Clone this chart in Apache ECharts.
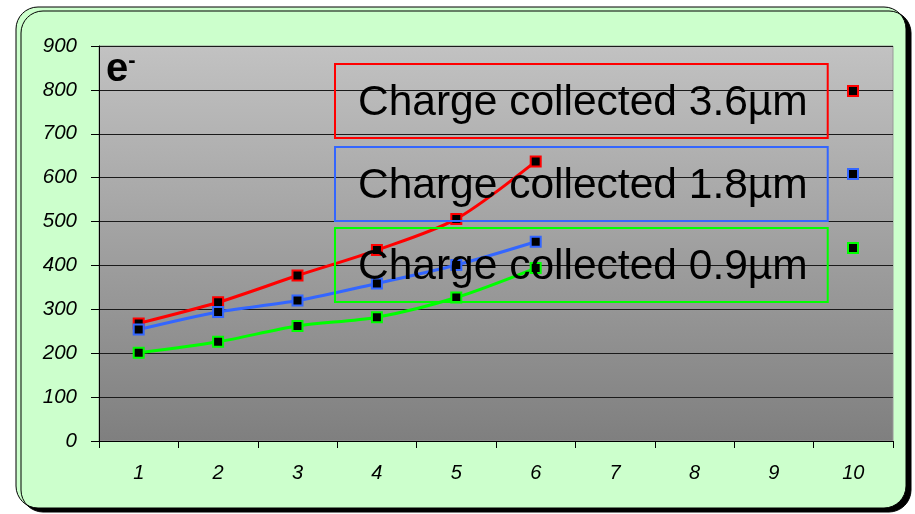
<!DOCTYPE html>
<html>
<head>
<meta charset="utf-8">
<title>Charge collected</title>
<script src="https://cdn.jsdelivr.net/npm/echarts@6/dist/echarts.min.js"></script>
<style>
  html, body { margin: 0; padding: 0; background: #fff; }
  #chart { width: 915px; height: 514px; }
</style>
</head>
<body>
<div id="chart"></div>
<script>
// values
const categories = ['1', '2', '3', '4', '5', '6', '7', '8', '9', '10']
const seriesNames = ['Charge collected 3.6µm', 'Charge collected 1.8µm', 'Charge collected 0.9µm']
const charge36 = [268, 316, 377, 435, 506, 637]
const charge18 = [254, 294, 320, 359, 401, 454]
const charge09 = [201, 226, 262, 282, 327, 394]
const yTicks = { min: 0, max: 900, interval: 100 }

const colors = ['#ff0000', '#3366ff', '#00ff00']
const values = [charge36, charge18, charge09]

const chart = echarts.init(document.getElementById('chart'))

const font = '"Liberation Sans", Arial, sans-serif'

// boxed legend entries (text) and separate marker legends
const boxTops = [64, 147, 228]
const markerTops = [85, 168, 242]

const textLegends = seriesNames.map((name, i) => ({
  data: [name],
  left: 335,
  top: boxTops[i],
  orient: 'horizontal',
  selectedMode: false,
  itemWidth: 0,
  itemHeight: 0,
  itemStyle: { opacity: 0 },
  lineStyle: { opacity: 0 },
  padding: [18, 20, 13, 17],
  borderColor: colors[i],
  borderWidth: 2,
  textStyle: { fontFamily: font, fontSize: 42.5, lineHeight: 42, color: '#000' }
}))

const markerLegends = seriesNames.map((name, i) => ({
  data: [{ name, itemStyle: { color: '#000', borderColor: colors[i], borderWidth: 2 } }],
  left: 847,
  top: markerTops[i],
  selectedMode: false,
  icon: 'rect',
  itemWidth: 10,
  itemHeight: 10,
  padding: 0,
  formatter: () => '',
  textStyle: { fontSize: 10, lineHeight: 10 }
}))

const option = {
  backgroundColor: '#ffffff',
  animation: false,
  textStyle: { fontFamily: font },
  graphic: [
    {
      type: 'rect',
      z: -10,
      shape: { x: 16, y: 7, width: 890, height: 501, r: 22 },
      style: {
        fill: '#ccffcc',
        stroke: '#000',
        lineWidth: 1,
        shadowColor: '#000',
        shadowBlur: 0,
        shadowOffsetX: 5,
        shadowOffsetY: 4
      }
    },
    {
      type: 'text',
      z: 100,
      left: 106,
      top: 50,
      style: {
        text: '{e|e}{m|-}',
        rich: {
          e: { fontFamily: font, fontSize: 40, fontWeight: 'bold', fill: '#000', verticalAlign: 'bottom' },
          m: { fontFamily: font, fontSize: 22, fontWeight: 'bold', fill: '#000', verticalAlign: 'top', padding: [0, 0, 16, 0] }
        }
      }
    }
  ],
  legend: [...textLegends, ...markerLegends],
  grid: {
    left: 99,
    right: 22,
    top: 46,
    bottom: 73,
    show: true,
    borderColor: '#999',
    borderWidth: 1,
    backgroundColor: {
      type: 'linear', x: 0, y: 0, x2: 0, y2: 1,
      colorStops: [
        { offset: 0, color: '#c2c2c2' },
        { offset: 1, color: '#7f7f7f' }
      ]
    }
  },
  xAxis: {
    type: 'category',
    data: categories,
    boundaryGap: true,
    axisLine: { lineStyle: { color: '#000', width: 1 } },
    axisTick: { show: true, length: 7, lineStyle: { color: '#000' } },
    axisLabel: { color: '#000', fontSize: 20, fontStyle: 'italic', margin: 22 }
  },
  yAxis: {
    type: 'value',
    min: yTicks.min,
    max: yTicks.max,
    interval: yTicks.interval,
    axisLine: { show: true, lineStyle: { color: '#000', width: 1 } },
    axisTick: { show: true, length: 8, lineStyle: { color: '#000' } },
    splitLine: { lineStyle: { color: '#1a1a1a', width: 1 } },
    axisLabel: { color: '#000', fontSize: 20.5, fontStyle: 'italic', margin: 22 }
  },
  series: seriesNames.map((name, i) => ({
    name,
    type: 'line',
    data: values[i],
    smooth: 0.3,
    symbol: 'rect',
    symbolSize: 10,
    lineStyle: { color: colors[i], width: 3 },
    itemStyle: { color: '#000', borderColor: colors[i], borderWidth: 2 },
    emphasis: { disabled: true }
  }))
}

chart.setOption(option)
window.addEventListener('resize', () => chart.resize())
</script>
</body>
</html>
